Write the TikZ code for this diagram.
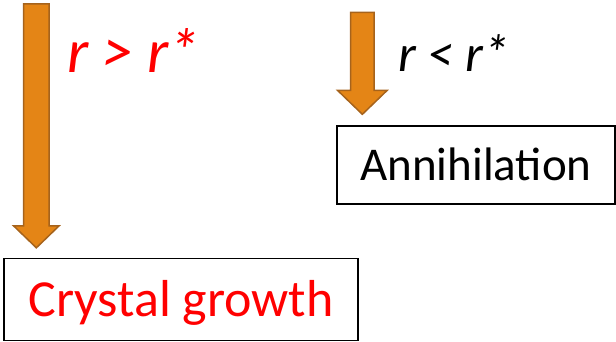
\documentclass[tikz,border=0pt]{standalone}
\usepackage{fontspec}
\setmainfont{Carlito}
\usetikzlibrary{shapes.arrows, positioning}
\definecolor{ArrowOrange}{RGB}{228, 133, 22}
\definecolor{ArrowEdge}{RGB}{166, 99, 28}
\definecolor{CondRed}{RGB}{255, 0, 0}

\begin{document}
\begin{tikzpicture}[
    x=1pt, y=-1pt,
    outcome/.style={rectangle, draw=black, line width=1.3pt, inner sep=0pt, text depth=0pt, align=center},
    flow/.style={single arrow, rotate=-90, draw=ArrowEdge, fill=ArrowOrange, line width=1.5pt, inner xsep=0pt, single arrow tip angle=92},
    cond/.style={anchor=base west, inner sep=0pt, font=\itshape}
]
    \useasboundingbox (0,0) rectangle (616,342);

    % Ergebnisse
    \node[outcome, minimum width=354pt, minimum height=82pt, text height=33pt, font=\fontsize{52}{60}\selectfont, text=CondRed] (growthBox) at (181,299.5) {Crystal growth};
    \node[outcome, minimum width=278pt, minimum height=78pt, text height=30pt, font=\fontsize{47}{56}\selectfont] (annihBox) at (476,165) {Annihilation};

    % Pfeile
    \node[flow, minimum height=244pt, inner ysep=12pt, single arrow head extend=10pt, anchor=tip] (growArrow) at ([xshift=33pt, yshift=9pt]growthBox.north west) {};
    \node[flow, minimum height=102pt, inner ysep=11pt, single arrow head extend=13pt, anchor=tip] (annihArrow) at ([xshift=26pt, yshift=10pt]annihBox.north west) {};

    % Bedingungen
    \node[cond, text=CondRed, font=\fontsize{62}{70}\selectfont\itshape] (growLabel) at (67,73) {r > r*};
    \node[cond, font=\fontsize{52}{60}\selectfont\itshape] (annihLabel) at (398,72) {r < r*};
\end{tikzpicture}
\end{document}
